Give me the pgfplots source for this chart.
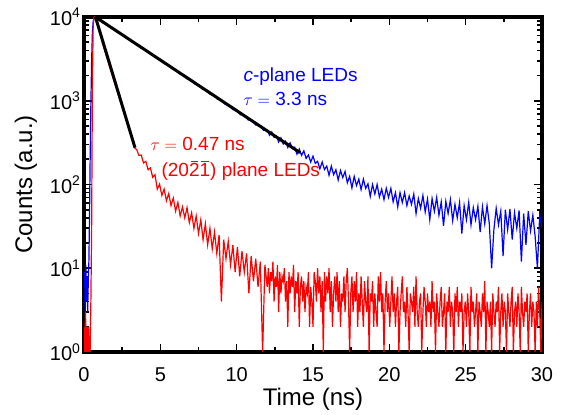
\documentclass[border=0pt]{standalone}
\usepackage{fontspec}
\setmainfont{Liberation Sans}
\usepackage{pgfplots}
\pgfplotsset{compat=1.18}
\newcommand\ob[1]{\ooalign{#1\cr\hidewidth\rule[0.8em]{0.4em}{0.06em}\hidewidth\cr}}

\pgfplotstableread{
x y
0.00 6
0.04 9
0.08 3
0.12 11
0.16 4
0.20 8
0.24 3
0.28 7
0.32 12
0.36 40
0.40 180
0.45 900
0.50 3000
0.55 6500
0.60 8800
0.65 9700
0.70 10000
0.75 10000
0.80 9900
1.00 9500
1.25 8500
1.50 8300
1.75 7400
2.00 7200
2.25 6450
2.50 6250
2.75 5600
3.00 5420
3.25 4880
3.50 4720
3.75 4240
4.00 4110
4.25 3690
4.50 3570
4.75 3210
5.00 3110
5.25 2790
5.50 2700
5.75 2420
6.00 2350
6.25 2100
6.50 2050
6.75 1830
7.00 1780
7.25 1590
7.50 1550
7.75 1380
8.00 1350
8.25 1200
8.50 1175
8.75 1040
9.00 1025
9.25 905
9.50 890
9.75 785
10.00 775
10.25 680
10.50 675
10.75 590
11.00 588
11.25 512
11.50 512
11.75 445
12.00 448
12.15 387
12.30 424
12.45 366
12.60 380
12.75 322
12.90 361
13.05 304
13.20 328
13.35 277
13.50 314
13.65 269
13.80 279
13.95 230
14.10 265
14.25 223
14.40 252
14.55 205
14.70 225
14.85 185
15.00 218
15.15 179
15.30 189
15.45 154
15.60 186
15.75 151
15.90 166
16.05 129
16.20 166
16.35 131
16.50 150
16.65 113
16.80 147
16.95 121
17.10 143
17.25 105
17.40 125
17.55 91
17.70 125
17.85 97
18.00 116
18.15 87
18.30 116
18.45 90
18.60 102
18.75 72
18.90 100
19.05 77
19.20 100
19.35 71
19.50 88
19.65 66
19.80 90
19.95 70
20.10 90
20.25 62
20.40 80
20.55 54
20.70 80
20.85 61
21.00 80
21.15 56
21.30 73
21.45 58
21.60 77
21.75 45
21.90 68
22.05 52
22.20 74
22.35 47
22.50 67
22.65 38
22.80 68
22.95 48
23.10 70
23.25 43
23.40 62
23.55 32
23.70 63
23.85 45
24.00 66
24.15 37
24.30 58
24.45 40
24.60 61
24.75 26
24.90 56
25.05 38
25.20 61
25.35 33
25.50 53
25.65 38
25.80 55
25.95 27
26.10 54
26.25 34
26.40 56
26.55 34
26.70 10
26.85 29
27.00 52
27.15 33
27.30 48
27.45 14
27.60 50
27.75 29
27.90 51
28.05 22
28.20 46
28.35 30
28.50 49
28.65 12
28.80 45
28.95 19
29.10 48
29.25 28
29.40 43
29.55 24
29.70 10
29.85 44
30.00 30
}\cplane

\pgfplotstableread{
x y
0.00 2
0.05 1
0.10 3
0.15 1
0.20 2
0.25 1
0.30 2
0.35 1
0.40 1
0.45 4
0.50 30
0.55 1500
0.60 7500
0.65 9800
0.70 10000
0.80 9200
1.00 6800
1.20 5000
1.40 3750
1.60 2850
1.80 2170
2.00 1650
2.20 1260
2.40 960
2.60 735
2.80 565
3.00 430
3.20 330
3.34 270
3.45 262
3.60 222
3.75 225
3.90 181
4.05 189
4.20 150
4.35 158
4.50 122
4.65 131
4.80 88
4.95 101
5.10 74
5.25 88
5.40 64
5.55 78
5.70 56
5.85 69
6.00 48
6.15 61
6.30 42
6.45 54
6.60 40
6.75 53
6.90 35
7.05 46
7.20 30
7.35 42
7.50 26
7.65 38
7.80 22
7.95 34
8.10 19
8.25 30
8.40 17
8.55 27
8.70 15
8.85 25
9.00 4
9.15 22
9.30 13
9.45 21
9.60 11
9.75 19
9.90 9
10.05 18
10.20 8
10.35 16
10.50 9
10.65 15
10.80 5
10.95 14
11.10 7
11.25 13
11.40 6
11.55 12
11.70 1
11.85 11
12.000 6
12.075 10
12.150 5
12.225 9
12.300 7
12.375 12
12.450 4
12.525 8
12.600 6
12.675 11
12.750 3
12.825 9
12.900 5
12.975 8
13.050 7
13.125 10
13.200 4
13.275 7
13.350 2
13.425 9
13.500 5
13.575 8
13.650 6
13.725 11
13.800 3
13.875 7
13.950 5
14.025 9
14.100 2
14.175 6
14.250 8
14.325 4
14.400 7
14.475 3
14.550 6
14.625 5
14.700 9
14.775 2
14.850 6
14.925 4
15.000 2
15.075 9
15.150 7
15.225 4
15.300 10
15.375 5
15.450 8
15.525 3
15.600 7
15.675 1
15.750 9
15.825 4
15.900 8
15.975 5
16.050 10
16.125 3
16.200 7
16.275 2
16.350 5
16.425 8
16.500 4
16.575 9
16.650 3
16.725 7
16.800 2
16.875 5
16.950 4
17.025 8
17.100 3
17.175 7
17.250 10
17.325 4
17.400 1
17.475 5
17.550 8
17.625 3
17.700 7
17.775 4
17.850 9
17.925 2
18.000 5
18.075 3
18.150 8
18.225 4
18.300 2
18.375 7
18.450 4
18.525 3
18.600 8
18.675 1
18.750 5
18.825 4
18.900 7
18.975 2
19.050 5
19.125 3
19.200 2
19.275 8
19.350 4
19.425 9
19.500 3
19.575 5
19.650 1
19.725 4
19.800 7
19.875 3
19.950 5
20.025 2
20.100 4
20.175 8
20.250 3
20.325 5
20.400 2
20.475 4
20.550 6
20.625 1
20.700 3
20.775 5
20.850 8
20.925 3
21.000 4
21.075 2
21.150 6
21.225 3
21.300 1
21.375 5
21.450 4
21.525 3
21.600 6
21.675 2
21.750 8
21.825 3
21.900 2
21.975 4
22.050 5
22.125 1
22.200 3
22.275 6
22.350 4
22.425 2
22.500 5
22.575 3
22.650 4
22.725 2
22.800 7
22.875 3
22.950 4
23.025 1
23.100 5
23.175 3
23.250 2
23.325 4
23.400 6
23.475 2
23.550 3
23.625 5
23.700 1
23.775 4
23.850 3
23.925 6
24.000 2
24.075 4
24.150 3
24.225 1
24.300 5
24.375 3
24.450 6
24.525 2
24.600 4
24.675 3
24.750 5
24.825 1
24.900 3
24.975 4
25.050 2
25.125 5
25.200 3
25.275 1
25.350 6
25.425 3
25.500 4
25.575 2
25.650 3
25.725 5
25.800 1
25.875 4
25.950 3
26.025 2
26.100 5
26.175 3
26.250 7
26.325 1
26.400 4
26.475 3
26.550 2
26.625 4
26.700 1
26.775 5
26.850 3
26.925 2
27.000 4
27.075 3
27.150 6
27.225 1
27.300 3
27.375 5
27.450 2
27.525 4
27.600 3
27.675 1
27.750 5
27.825 3
27.900 2
27.975 4
28.050 6
28.125 1
28.200 3
28.275 4
28.350 2
28.425 5
28.500 3
28.575 1
28.650 6
28.725 3
28.800 2
28.875 4
28.950 3
29.025 5
29.100 1
29.175 3
29.250 5
29.325 2
29.400 4
29.475 3
29.550 1
29.625 4
29.700 2
29.775 6
29.850 3
29.925 1
30.000 4
}\semipolar

\begin{document}
\begin{tikzpicture}
\begin{axis}[
    scale only axis,
    width=458pt, height=335pt,
    ymode=log,
    xmin=0, xmax=30,
    ymin=1, ymax=10000,
    xtick={0,5,...,30},
    minor x tick num=1,
    ytick={1,10,100,1000,10000},
    yticklabels={10\textsuperscript{0},10\textsuperscript{1},10\textsuperscript{2},10\textsuperscript{3},10\textsuperscript{4}},
    tick align=inside,
    axis line style={line width=3.4pt},
    major tick length=8pt,
    minor tick length=5pt,
    every tick/.style={black, line width=1.6pt},
    tick label style={font=\fontsize{20}{22}\selectfont},
    xticklabel style={yshift=-12pt},
    label style={font=\fontsize{24}{26}\selectfont},
    ylabel shift=6pt,
    /pgf/number format/assume math mode=true,
    xlabel={Time (ns)},
    ylabel={Counts (a.u.)},
]
\addplot[blue, line width=1.2pt] table {\cplane};
\addplot[red, line width=1.2pt] table {\semipolar};
\addplot[black, line width=3pt] coordinates {(0.75,10000) (14.15,240)};
\addplot[black, line width=3pt] coordinates {(0.75,10000) (3.34,275)};
\node[blue, anchor=base west, font=\fontsize{19}{21}\selectfont] at (axis cs:10.22,1675) {\textit{c}-plane LEDs};
\node[blue, anchor=base west, font=\fontsize{19}{21}\selectfont] at (axis cs:10.22,889) {$\tau =$ 3.3 ns};
\node[red, anchor=base west, font=\fontsize{19}{21}\selectfont] at (axis cs:4.13,258) {$\tau =$ 0.47 ns};
\node[red, anchor=base west, font=\fontsize{19}{21}\selectfont] at (axis cs:4.85,123) {(20\ob{2}\ob{1}) plane LEDs};
\end{axis}
\path (current axis.south west) +(-84pt,-61pt) (current axis.north east) +(23pt,17pt);
\end{tikzpicture}
\end{document}
